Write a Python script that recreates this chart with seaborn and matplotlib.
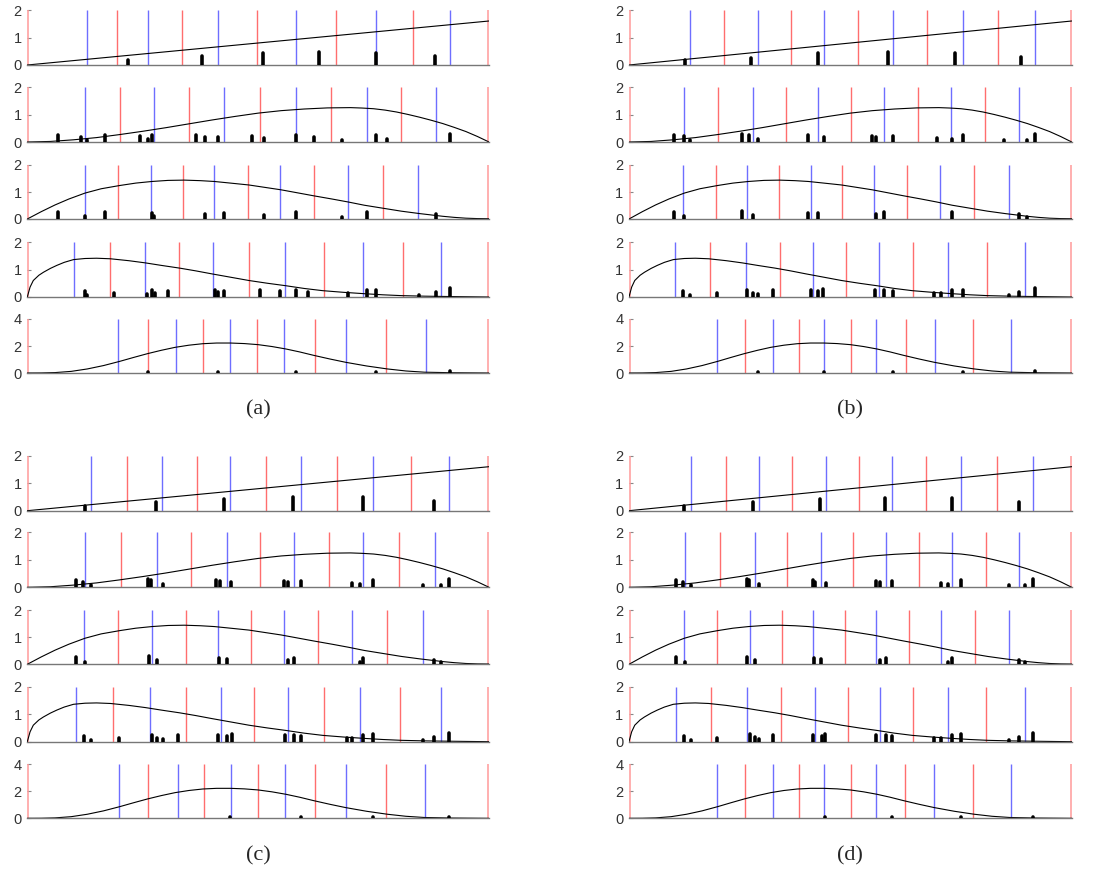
import numpy as np
import pandas as pd
import seaborn as sns
from matplotlib import pyplot as plt

# curves (same in every panel), x in [0, 1]
curve_t1 = [0.0, 1.0]
curve_y1 = [0.0, 1.6]
curve_t2 = [0, 0.05, 0.1, 0.15, 0.2, 0.25, 0.3, 0.35, 0.4, 0.45, 0.5, 0.55, 0.6, 0.65, 0.7,
            0.725, 0.75, 0.775, 0.8, 0.825, 0.85, 0.875, 0.9, 0.925, 0.95, 0.975, 1.0]
curve_y2 = [0, 0.02, 0.08, 0.16, 0.27, 0.39, 0.52, 0.66, 0.8, 0.93, 1.05, 1.14, 1.2, 1.24, 1.25,
            1.235, 1.21, 1.16, 1.09, 1.0, 0.9, 0.79, 0.67, 0.53, 0.38, 0.2, 0]
curve_t3 = [0, 0.03, 0.06, 0.09, 0.125, 0.16, 0.2, 0.235, 0.27, 0.305, 0.34, 0.375, 0.405,
            0.44, 0.48, 0.515, 0.55, 0.585, 0.62, 0.66, 0.695, 0.73, 0.77, 0.81, 0.85,
            0.875, 0.9, 0.925, 0.95, 0.975, 1.0]
curve_y3 = [0, 0.27, 0.52, 0.74, 0.96, 1.12, 1.24, 1.33, 1.39, 1.43, 1.44, 1.42, 1.39,
            1.33, 1.26, 1.17, 1.08, 0.97, 0.86, 0.74, 0.63, 0.51, 0.4, 0.29, 0.2,
            0.15, 0.1, 0.06, 0.03, 0.015, 0.01]
curve_t4 = [0, 0.006, 0.013, 0.025, 0.035, 0.05, 0.064, 0.08, 0.1, 0.125, 0.15, 0.18, 0.22,
            0.256, 0.29, 0.33, 0.365, 0.4, 0.44, 0.48, 0.52, 0.56, 0.6, 0.64, 0.685, 0.73,
            0.77, 0.81, 0.86, 0.9, 0.95, 1.0]
curve_y4 = [0, 0.36, 0.6, 0.79, 0.9, 1.04, 1.15, 1.26, 1.36, 1.4, 1.41, 1.39, 1.32,
            1.24, 1.15, 1.05, 0.95, 0.84, 0.72, 0.6, 0.5, 0.41, 0.31, 0.23, 0.17, 0.12,
            0.08, 0.05, 0.03, 0.02, 0.01, 0.0]
curve_t5 = [0, 0.03, 0.06, 0.095, 0.13, 0.165, 0.2, 0.23, 0.26, 0.29, 0.32, 0.35, 0.38,
            0.41, 0.44, 0.47, 0.5, 0.53, 0.56, 0.59, 0.62, 0.655, 0.69, 0.735, 0.78,
            0.82, 0.86, 0.92, 1.0]
curve_y5 = [0, 0.005, 0.03, 0.12, 0.3, 0.55, 0.86, 1.15, 1.43, 1.68, 1.9, 2.06, 2.17,
            2.22, 2.22, 2.18, 2.1, 1.96, 1.78, 1.56, 1.31, 1.04, 0.79, 0.52, 0.3,
            0.15, 0.06, 0.02, 0]
ymax = [2, 2, 2, 2, 4]

# interior boundary lines (blue, red, blue, ... ; the two ends are red)
lines_a = [
    [0.130, 0.195, 0.261, 0.336, 0.414, 0.498, 0.583, 0.669, 0.755, 0.836, 0.916],
    [0.126, 0.201, 0.274, 0.350, 0.425, 0.504, 0.583, 0.658, 0.736, 0.809, 0.885],
    [0.125, 0.197, 0.269, 0.338, 0.405, 0.477, 0.547, 0.622, 0.695, 0.771, 0.847],
    [0.102, 0.179, 0.256, 0.329, 0.403, 0.481, 0.559, 0.643, 0.728, 0.813, 0.897],
    [0.197, 0.261, 0.323, 0.381, 0.438, 0.497, 0.557, 0.623, 0.690, 0.776, 0.863],
]
lines_b = [
    [0.138, 0.215, 0.291, 0.366, 0.441, 0.518, 0.596, 0.674, 0.754, 0.834, 0.916],
    [0.125, 0.200, 0.279, 0.354, 0.428, 0.502, 0.577, 0.652, 0.727, 0.804, 0.882],
    [0.121, 0.196, 0.267, 0.338, 0.410, 0.482, 0.554, 0.628, 0.703, 0.780, 0.858],
    [0.105, 0.184, 0.264, 0.340, 0.416, 0.490, 0.564, 0.642, 0.721, 0.808, 0.895],
    [0.198, 0.262, 0.326, 0.385, 0.441, 0.502, 0.559, 0.626, 0.691, 0.778, 0.863],
]
lines_c = [
    [0.139, 0.215, 0.292, 0.367, 0.440, 0.516, 0.592, 0.670, 0.748, 0.830, 0.914],
    [0.125, 0.203, 0.280, 0.355, 0.432, 0.505, 0.578, 0.653, 0.728, 0.805, 0.882],
    [0.123, 0.197, 0.271, 0.343, 0.414, 0.485, 0.557, 0.630, 0.704, 0.780, 0.858],
    [0.105, 0.186, 0.266, 0.343, 0.419, 0.492, 0.565, 0.643, 0.721, 0.807, 0.895],
    [0.199, 0.262, 0.326, 0.383, 0.441, 0.500, 0.558, 0.623, 0.690, 0.776, 0.861],
]
lines_d = [
    [0.139, 0.218, 0.294, 0.369, 0.444, 0.520, 0.593, 0.672, 0.750, 0.832, 0.913],
    [0.127, 0.206, 0.284, 0.358, 0.433, 0.507, 0.581, 0.655, 0.729, 0.806, 0.882],
    [0.124, 0.198, 0.273, 0.345, 0.416, 0.487, 0.559, 0.632, 0.704, 0.782, 0.858],
    [0.106, 0.186, 0.267, 0.343, 0.420, 0.494, 0.567, 0.642, 0.720, 0.806, 0.895],
    [0.198, 0.262, 0.326, 0.385, 0.441, 0.502, 0.558, 0.624, 0.690, 0.776, 0.862],
]

# stems: positions and heights per row
stem_x_a = [
    [0.219, 0.378, 0.511, 0.632, 0.755, 0.883],
    [0.067, 0.116, 0.130, 0.168, 0.244, 0.261, 0.271, 0.365, 0.385, 0.414, 0.487, 0.513,
     0.583, 0.621, 0.681, 0.755, 0.778, 0.916],
    [0.067, 0.126, 0.168, 0.271, 0.275, 0.385, 0.426, 0.513, 0.582, 0.681, 0.735, 0.885],
    [0.125, 0.130, 0.188, 0.260, 0.270, 0.277, 0.305, 0.406, 0.414, 0.426, 0.503, 0.547,
     0.583, 0.607, 0.695, 0.735, 0.755, 0.848, 0.885, 0.916],
    [0.130, 0.261, 0.414, 0.583, 0.755, 0.916],
]
stem_h_a = [
    [0.18, 0.33, 0.42, 0.46, 0.45, 0.33],
    [0.24, 0.18, 0.06, 0.25, 0.23, 0.11, 0.25, 0.25, 0.2, 0.18, 0.23, 0.15,
     0.27, 0.18, 0.08, 0.27, 0.11, 0.29],
    [0.25, 0.1, 0.26, 0.22, 0.12, 0.2, 0.22, 0.13, 0.26, 0.07, 0.25, 0.17],
    [0.23, 0.08, 0.15, 0.1, 0.25, 0.15, 0.23, 0.25, 0.17, 0.23, 0.24, 0.21,
     0.27, 0.19, 0.15, 0.24, 0.27, 0.07, 0.17, 0.32],
    [0.03, 0.04, 0.08, 0.1, 0.1, 0.12],
]
stem_x_b = [
    [0.127, 0.275, 0.426, 0.584, 0.736, 0.886],
    [0.102, 0.125, 0.138, 0.255, 0.270, 0.292, 0.405, 0.441, 0.548, 0.559, 0.596, 0.695,
     0.729, 0.754, 0.847, 0.898, 0.916],
    [0.102, 0.125, 0.255, 0.279, 0.404, 0.426, 0.559, 0.576, 0.729, 0.882, 0.898],
    [0.121, 0.138, 0.198, 0.267, 0.279, 0.292, 0.325, 0.410, 0.428, 0.439, 0.556, 0.577,
     0.596, 0.690, 0.704, 0.729, 0.754, 0.859, 0.882, 0.916],
    [0.138, 0.291, 0.441, 0.596, 0.754, 0.916],
]
stem_h_b = [
    [0.18, 0.27, 0.42, 0.48, 0.45, 0.3],
    [0.27, 0.23, 0.08, 0.28, 0.25, 0.12, 0.25, 0.18, 0.22, 0.2, 0.22, 0.15,
     0.11, 0.25, 0.07, 0.07, 0.3],
    [0.27, 0.1, 0.28, 0.15, 0.22, 0.21, 0.2, 0.26, 0.25, 0.18, 0.09],
    [0.21, 0.08, 0.15, 0.27, 0.16, 0.12, 0.24, 0.24, 0.21, 0.3, 0.24, 0.24,
     0.21, 0.15, 0.15, 0.24, 0.27, 0.06, 0.18, 0.32],
    [0.03, 0.05, 0.08, 0.1, 0.1, 0.12],
]
stem_x_c = [
    [0.125, 0.279, 0.427, 0.576, 0.728, 0.881],
    [0.105, 0.121, 0.138, 0.262, 0.269, 0.293, 0.409, 0.417, 0.441, 0.555, 0.565, 0.592,
     0.703, 0.721, 0.748, 0.858, 0.895, 0.914],
    [0.105, 0.125, 0.264, 0.281, 0.416, 0.432, 0.565, 0.578, 0.721, 0.728, 0.881, 0.895],
    [0.123, 0.139, 0.199, 0.271, 0.282, 0.293, 0.327, 0.414, 0.432, 0.443, 0.559, 0.578,
     0.593, 0.692, 0.703, 0.728, 0.748, 0.858, 0.881, 0.914],
    [0.138, 0.292, 0.440, 0.592, 0.748, 0.914],
]
stem_h_c = [
    [0.18, 0.3, 0.42, 0.51, 0.5, 0.35],
    [0.28, 0.2, 0.07, 0.29, 0.25, 0.12, 0.27, 0.23, 0.18, 0.23, 0.18, 0.23,
     0.16, 0.12, 0.28, 0.07, 0.07, 0.3],
    [0.27, 0.09, 0.29, 0.15, 0.22, 0.21, 0.15, 0.25, 0.09, 0.23, 0.17, 0.07],
    [0.21, 0.08, 0.15, 0.25, 0.15, 0.11, 0.24, 0.25, 0.19, 0.28, 0.23, 0.25,
     0.21, 0.15, 0.15, 0.25, 0.27, 0.07, 0.18, 0.32],
    [0.03, 0.04, 0.08, 0.1, 0.1, 0.12],
]
stem_x_d = [
    [0.125, 0.281, 0.431, 0.578, 0.729, 0.882],
    [0.106, 0.123, 0.140, 0.266, 0.272, 0.294, 0.415, 0.420, 0.444, 0.558, 0.567, 0.593,
     0.704, 0.720, 0.750, 0.859, 0.895, 0.913],
    [0.106, 0.127, 0.266, 0.285, 0.419, 0.434, 0.567, 0.581, 0.720, 0.729, 0.882, 0.895],
    [0.124, 0.140, 0.198, 0.273, 0.285, 0.294, 0.326, 0.416, 0.435, 0.443, 0.559, 0.581,
     0.593, 0.690, 0.705, 0.729, 0.750, 0.859, 0.882, 0.913],
    [0.140, 0.294, 0.443, 0.593, 0.750, 0.913],
]
stem_h_d = [
    [0.17, 0.3, 0.41, 0.48, 0.48, 0.33],
    [0.28, 0.2, 0.07, 0.29, 0.25, 0.12, 0.25, 0.2, 0.17, 0.22, 0.18, 0.22,
     0.15, 0.11, 0.27, 0.07, 0.07, 0.3],
    [0.27, 0.09, 0.28, 0.15, 0.22, 0.2, 0.15, 0.25, 0.09, 0.23, 0.17, 0.07],
    [0.21, 0.07, 0.15, 0.27, 0.16, 0.11, 0.25, 0.25, 0.22, 0.29, 0.24, 0.24,
     0.21, 0.15, 0.15, 0.24, 0.27, 0.07, 0.18, 0.3],
    [0.03, 0.05, 0.08, 0.1, 0.1, 0.12],
]

curves_t = [curve_t1, curve_t2, curve_t3, curve_t4, curve_t5]
curves_y = [curve_y1, curve_y2, curve_y3, curve_y4, curve_y5]
panels = {
    "(a)": (lines_a, stem_x_a, stem_h_a),
    "(b)": (lines_b, stem_x_b, stem_h_b),
    "(c)": (lines_c, stem_x_c, stem_h_c),
    "(d)": (lines_d, stem_x_d, stem_h_d),
}

sns.set_style("white")
plt.rcParams["font.family"] = ["Liberation Sans", "DejaVu Sans"]

W, H = 1095, 877
fig = plt.figure(figsize=(W / 100, H / 100), dpi=100)

# layout in pixels
col_x = {"left": (27.3, 489.0), "right": (629.0, 1071.7)}
rows_top = [(10, 65), (87, 142), (165, 219), (242, 297), (319, 373)]
rows_bot = [(455.7, 510.7), (532.3, 587.3), (610, 664.3), (686.7, 741.7), (764.3, 818.3)]
layout = {"(a)": ("left", rows_top, 410), "(b)": ("right", rows_top, 410),
          "(c)": ("left", rows_bot, 856), "(d)": ("right", rows_bot, 856)}

red = "#ff5555"
red_edge = "#ff9a9a"
blue = "#5555ff"

for name, (lines, sx, sh) in panels.items():
    col, rows, cap_y = layout[name]
    x0, x1 = col_x[col]
    for r in range(5):
        ytop, ybot = rows[r]
        ax = fig.add_axes([x0 / W, 1 - ybot / H, (x1 - x0) / W, (ybot - ytop) / H])
        top = ymax[r]
        # boundaries
        ax.vlines([0.0015, 0.9985], 0, top, color=red_edge, lw=1.1, zorder=1)
        cols = [blue if i % 2 == 0 else red for i in range(len(lines[r]))]
        ax.vlines(lines[r], 0, top, colors=cols, lw=1.0, alpha=0.85, zorder=1)
        # stems
        ax.vlines(sx[r], 0, sh[r], color="black", lw=2.6, capstyle="round", zorder=3)
        # curve
        sns.lineplot(x=curves_t[r], y=curves_y[r], ax=ax, color="black", lw=0.8,
                     sort=False, estimator=None, zorder=2)
        ax.set_xlim(0, 1)
        ax.set_ylim(0, top)
        ax.set_yticks([0, top / 2, top])
        ax.set_yticklabels([0, int(top / 2), top])
        ax.set_xticks([])
        for s in ["top", "right"]:
            ax.spines[s].set_visible(False)
        ax.spines["left"].set_visible(False)
        ax.spines["bottom"].set_color("#777777")
        ax.spines["bottom"].set_linewidth(1.0)
        ax.tick_params(axis="y", direction="in", length=3, width=0.8, color="#888888",
                       labelsize=10.5, labelcolor="#333333", pad=4, left=True)
        ax.patch.set_alpha(0)
    cx = (x0 + x1) / 2 / W
    fig.text(cx, 1 - cap_y / H, name, ha="center", va="center",
             fontsize=16, family=["Liberation Serif", "DejaVu Serif"])

fig.savefig("out.png", dpi=100)
plt.close(fig)
